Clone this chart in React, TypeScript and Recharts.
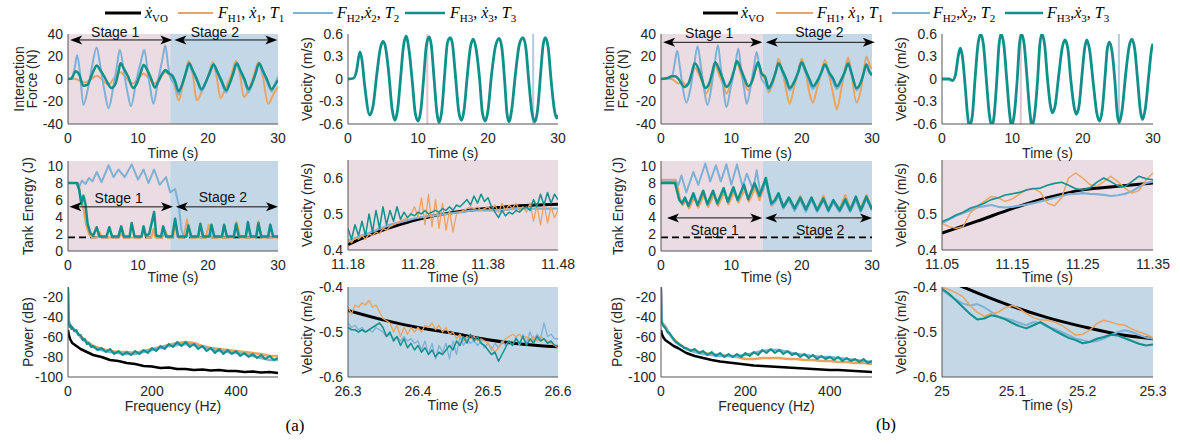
import React from 'react';
import { LineChart, Line, XAxis, YAxis, ReferenceArea, ReferenceLine } from 'recharts';

const BLACK = '#000000';
const ORANGE = '#EBA35F';
const BLUE = '#7DB1D6';
const TEAL = '#10908A';
const PINK = '#EBDCE3';
const SKY = '#C4D7E7';
const AXIS = '#555555';
const SANS = "'Liberation Sans', Arial, Helvetica, sans-serif";
const SERIF = "'Liberation Serif', 'DejaVu Serif', 'Times New Roman', serif";

type Pair = [number, number];
type Pt = { x: number; y: number };

const grid = (start: number, step: number, n: number) =>
  Array.from({ length: n }, (_, i) => +(start + i * step).toFixed(3));
const pts = (p: Pair[]): Pt[] => p.map(([x, y]) => ({ x, y }));
const zip = (t: number[], v: number[]): Pt[] => t.map((x, i) => ({ x, y: v[i] }));

// ---------- (a) interaction force ----------
const aForceTeal: Pair[] = [[0,0],[0.5,0.5],[0.8,4],[1.1,7],[1.6,4],[2.2,-6],[2.8,-5],[3.3,2],[3.7,8],[4.1,12],[4.6,8],[5.2,2],[5.7,-4],[6.2,-8],[6.8,-4],[7.2,6],[7.5,14],[8.0,9],[8.6,2],[9.3,-8],[9.9,-3],[10.4,6],[10.8,12.5],[11.4,7],[11.9,0],[12.4,-7.5],[13.0,-1],[13.5,5],[13.9,8],[14.4,5],[14.9,3],[15.3,-2],[15.8,-11],[16.3,-5],[16.8,5],[17.3,14],[17.8,8],[18.4,0],[19.1,-9],[19.6,-4],[20.2,5],[20.8,13],[21.3,7],[21.9,-1],[22.6,-10],[23.1,-4],[23.6,5],[24.1,14],[24.6,8],[25.2,0],[25.8,-9],[26.3,-4],[26.8,5],[27.3,14],[27.8,8],[28.4,0],[29.1,-9],[29.6,-5],[30,-1]];
const aForceBlue: Pair[] = [[0,0],[0.5,0],[0.9,8],[1.3,21],[1.7,6],[2.2,-23],[2.8,-10],[3.4,10],[4.1,28],[4.6,12],[5.2,-10],[5.8,-26],[6.5,-6],[7.0,12],[7.4,26],[8.0,6],[8.5,-12],[9.0,-24],[9.8,0],[10.4,15],[10.9,26],[11.4,6],[11.8,-10],[12.2,-22],[12.9,0],[13.5,18],[13.9,30],[14.3,12],[14.7,0],[15.2,-4],[15.8,-14],[16.3,-5],[16.8,4],[17.3,12],[17.8,6],[18.4,-2],[19.1,-11],[19.6,-4],[20.2,4],[20.8,12],[21.3,5],[21.9,-3],[22.6,-12],[23.1,-4],[23.6,4],[24.1,13],[24.6,6],[25.2,-2],[25.8,-12],[26.3,-4],[26.8,5],[27.3,13],[27.8,6],[28.4,-2],[29.1,-11],[29.6,-4],[30,2]];
const aForceOrange: Pair[] = [[0,0],[1.0,0],[1.8,-2],[2.5,-3],[3.3,0],[4.1,3],[4.8,0],[5.8,-5],[6.6,1],[7.5,6],[8.3,1],[9.2,-4],[10.0,0],[10.8,5],[11.6,0],[12.4,-4],[13.2,2],[13.9,6],[14.6,3],[15.2,-5],[15.8,-19],[16.4,-5],[16.9,6],[17.2,16],[17.8,5],[18.4,-19],[19.2,-10],[20.0,2],[20.7,15],[21.2,3],[21.8,-17],[22.5,-8],[23.3,3],[24.0,16],[24.6,3],[25.1,-16],[25.8,-10],[26.5,2],[27.2,15],[27.8,3],[28.6,-22],[29.3,-14],[30,-7]];

// ---------- (b) interaction force ----------
const bForceTeal: Pair[] = [[0,0],[1.0,1],[1.5,2.5],[2.0,2.5],[2.5,0],[3.3,-7],[3.9,-4],[4.4,6],[4.8,14],[5.4,8],[5.8,0],[6.3,-8],[6.9,-3],[7.3,6],[7.7,15],[8.3,8],[8.8,0],[9.3,-7],[9.9,-2],[10.4,8],[10.8,16],[11.4,8],[11.9,0],[12.4,-6.5],[13.0,-1],[13.4,8],[13.8,15],[14.3,5],[14.8,2],[15.3,-8],[15.8,-3],[16.3,6],[16.7,14],[17.3,7],[17.8,0],[18.3,-8],[18.9,-3],[19.5,6],[20.0,15],[20.6,7],[21.1,0],[21.6,-6.5],[22.2,-2],[22.8,6],[23.3,13],[23.9,6],[24.5,0],[25.0,-6.5],[25.6,-1],[26.1,6],[26.6,14],[27.1,5],[27.8,-8],[28.4,-3],[28.8,5],[29.2,13],[29.6,7],[30,3.5]];
const bForceBlue: Pair[] = [[0,0],[1.0,1],[1.6,3],[1.9,12],[2.3,25],[2.7,10],[3.1,-8],[3.6,-21],[4.2,-8],[4.7,12],[5.2,29],[5.7,10],[6.1,-8],[6.6,-23],[7.2,-6],[7.6,12],[8.1,30],[8.5,10],[8.9,-10],[9.3,-25],[9.9,-8],[10.5,10],[11.0,27],[11.4,8],[11.8,-8],[12.2,-22],[12.8,-4],[13.2,10],[13.6,24],[14.0,10],[14.3,0],[14.8,-4],[15.3,-10],[15.8,-4],[16.3,6],[16.7,13],[17.3,5],[17.8,-3],[18.3,-10],[18.9,-4],[19.5,5],[20.0,13],[20.6,5],[21.1,-3],[21.6,-9],[22.2,-3],[22.8,5],[23.3,12],[23.9,4],[24.5,-3],[25.0,-9],[25.6,-3],[26.1,5],[26.6,12],[27.1,4],[27.8,-10],[28.4,-4],[28.8,4],[29.2,12],[29.6,6],[30,3]];
const bForceOrange: Pair[] = [[0,0],[1.5,0],[2.0,-2],[2.5,-4],[3.0,-2],[3.6,-6],[4.2,0],[4.8,10],[5.4,4],[6.0,-5],[6.4,-13],[7.0,-5],[7.7,12],[8.3,3],[8.9,-6],[9.3,-13],[9.9,-4],[10.8,14],[11.4,4],[11.9,-4],[12.4,-10],[13.0,-2],[13.8,13],[14.3,4],[14.8,0],[15.3,-12],[15.8,-6],[16.3,6],[16.7,18],[17.3,6],[17.8,-10],[18.3,-22],[18.9,-8],[19.5,6],[20.0,18],[20.6,5],[21.1,-12],[21.6,-21],[22.2,-8],[22.8,6],[23.3,17],[23.9,3],[24.5,-14],[25.0,-27],[25.6,-10],[26.1,6],[26.6,19],[27.1,4],[27.8,-21],[28.4,-10],[28.8,6],[29.2,20],[29.7,12],[30,9]];

// ---------- velocity over the whole trial ----------
const aVel: Pair[] = [[0,0],[0.8,0.01],[1.2,0.1],[1.7,0.36],[2.0,0.25],[2.4,-0.1],[3.1,-0.48],[3.6,-0.35],[4.1,0.05],[4.6,0.4],[5.0,0.5],[5.3,0.45],[5.8,0.1],[6.3,-0.4],[6.7,-0.55],[7.1,-0.4],[7.5,0],[7.9,0.42],[8.3,0.57],[8.7,0.4],[9.2,-0.05],[9.6,-0.45],[10.0,-0.56],[10.4,-0.42],[10.8,0],[11.2,0.45],[11.6,0.56],[11.9,0.45],[12.3,0],[12.7,-0.45],[13.0,-0.58],[13.4,-0.42],[13.8,0.05],[14.2,0.48],[14.6,0.55],[14.9,0.48],[15.3,0.1],[15.8,-0.42],[16.2,-0.55],[16.6,-0.4],[17.0,0],[17.5,0.43],[17.9,0.53],[18.3,0.4],[18.8,0],[19.2,-0.45],[19.6,-0.56],[20.0,-0.42],[20.5,0.05],[21.1,0.45],[21.6,0.54],[22.0,0.4],[22.4,-0.05],[22.7,-0.45],[23.0,-0.57],[23.4,-0.4],[23.9,0.05],[24.5,0.47],[25.0,0.55],[25.4,0.42],[25.8,0],[26.3,-0.46],[26.7,-0.57],[27.1,-0.4],[27.5,0.05],[27.9,0.47],[28.2,0.55],[28.6,0.42],[29.0,0],[29.5,-0.42],[29.8,-0.52],[30,-0.48]];
const bVel: Pair[] = [[0,0],[1.0,0],[1.5,-0.02],[1.9,0.05],[2.3,0.3],[2.6,0.41],[2.9,0.3],[3.3,-0.1],[3.6,-0.45],[3.9,-0.63],[4.3,-0.5],[4.7,0],[5.1,0.45],[5.5,0.6],[5.9,0.45],[6.3,0],[6.7,-0.45],[7.1,-0.63],[7.4,-0.5],[7.8,0],[8.1,0.45],[8.4,0.6],[8.8,0.45],[9.2,0],[9.6,-0.45],[9.9,-0.63],[10.3,-0.45],[10.7,0],[11.0,0.45],[11.3,0.6],[11.7,0.45],[12.1,0],[12.5,-0.45],[12.8,-0.63],[13.2,-0.45],[13.6,0],[13.9,0.45],[14.2,0.6],[14.6,0.45],[15.0,0],[15.4,-0.35],[15.7,-0.45],[16.1,-0.35],[16.6,0.05],[17.1,0.42],[17.5,0.52],[17.9,0.4],[18.3,0],[18.8,-0.38],[19.1,-0.47],[19.5,-0.35],[19.9,0.05],[20.3,0.42],[20.6,0.52],[21.0,0.38],[21.5,-0.05],[22.0,-0.45],[22.4,-0.56],[22.8,-0.4],[23.2,0.05],[23.5,0.4],[23.8,0.49],[24.2,0.35],[24.6,-0.05],[24.9,-0.45],[25.2,-0.58],[25.6,-0.42],[26.1,0.05],[26.6,0.43],[27.0,0.53],[27.4,0.4],[27.8,0],[28.2,-0.42],[28.5,-0.54],[28.9,-0.4],[29.4,0.05],[29.8,0.4],[30,0.47]];

// ---------- tank energy ----------
const aTankTeal: Pair[] = [[0,8],[1.3,8],[1.6,7.2],[1.9,5.5],[2.2,6.5],[2.5,5.5],[2.8,3.2],[3.2,2.1],[3.6,1.8],[4.1,2.8],[4.5,1.7],[5.5,1.7],[5.9,2.8],[6.3,1.7],[7.2,1.7],[7.6,2.9],[8.0,1.7],[8.8,1.7],[9.1,3.3],[9.5,1.7],[10.5,1.7],[10.8,2.9],[11.1,1.8],[11.6,2.0],[12.3,4.6],[12.6,1.8],[13.3,1.7],[13.6,2.9],[14.0,1.7],[14.9,1.7],[15.3,3.8],[15.7,1.7],[16.9,1.7],[17.2,3.0],[17.6,1.7],[18.6,1.7],[18.9,3.2],[19.3,1.7],[20.2,1.7],[20.5,3.1],[20.9,1.7],[22.0,1.7],[22.3,3.1],[22.7,1.7],[23.7,1.7],[24.0,3.2],[24.4,1.7],[25.4,1.7],[25.7,3.4],[26.1,1.7],[26.9,1.7],[27.2,3.3],[27.6,1.7],[28.6,1.7],[28.9,3.1],[29.3,1.7],[30,1.7]];
const aTankBlue: Pair[] = [[0,8],[1.2,8],[1.5,7.4],[2.0,8.3],[2.5,7.9],[3.0,8.6],[3.5,8.2],[4.1,9.3],[4.8,8.1],[5.8,10.1],[6.5,8.7],[7.2,9.6],[8.1,8.7],[9.1,10.2],[10.0,8.4],[10.8,9.6],[11.5,8.0],[12.3,9.6],[13.1,7.8],[14.0,8.7],[14.6,6.9],[15.3,7.3],[15.8,5.5],[16.2,2.5],[16.5,1.8],[16.9,1.7],[17.2,2.9],[17.6,1.7],[18.6,1.7],[18.9,3.1],[19.3,1.7],[20.2,1.7],[20.5,3.0],[20.9,1.7],[22.0,1.7],[22.3,3.0],[22.7,1.7],[23.7,1.7],[24.0,3.1],[24.4,1.7],[25.4,1.7],[25.7,3.3],[26.1,1.7],[26.9,1.7],[27.2,3.2],[27.6,1.7],[28.6,1.7],[28.9,3.0],[29.3,1.7],[30,1.7]];
const aTankOrange: Pair[] = [[0,8],[1.5,8],[1.8,6.5],[2.2,5],[2.6,3],[3.0,2],[3.4,1.6],[4.2,1.6],[4.5,2.2],[4.8,1.6],[7.3,1.6],[7.6,2.1],[7.9,1.6],[10.5,1.6],[10.9,2.4],[11.3,1.6],[11.9,1.6],[12.2,2.6],[12.5,1.6],[13.5,1.6],[13.9,2.4],[14.3,1.6],[15.0,1.6],[15.4,3.2],[15.8,1.6],[16.5,1.6],[17.0,3.7],[17.5,1.6],[19.7,1.6],[20.1,3.1],[20.5,1.6],[23.6,1.6],[24.1,3.4],[24.6,1.6],[26.8,1.6],[27.2,3.5],[27.6,1.6],[30,1.6]];
const bTankTeal: Pair[] = [[0,8],[2.0,8],[2.3,7],[2.6,6],[3.0,5.6],[3.4,6.3],[3.9,5.3],[4.6,6.8],[5.2,5.4],[6.0,7.1],[6.6,5.5],[7.4,7.1],[8.0,5.6],[8.9,7.4],[9.5,5.8],[10.3,7.5],[10.9,6.0],[11.8,7.8],[12.4,6.1],[13.3,8.0],[14.0,6.5],[14.9,8.6],[15.3,7.0],[15.7,5.6],[16.2,6.0],[16.7,6.8],[17.4,5.2],[18.2,6.3],[19.0,5.0],[19.8,6.3],[20.6,4.9],[21.4,6.3],[22.2,4.8],[23.1,6.2],[23.8,4.8],[24.5,6.0],[25.4,4.8],[26.2,6.1],[26.9,4.8],[27.7,6.4],[28.4,4.8],[29.2,6.4],[30,4.9]];
const bTankBlue: Pair[] = [[0,8.2],[2.1,8.2],[2.5,7.8],[2.9,8.9],[3.6,6.9],[4.6,9.3],[5.3,7.8],[6.3,10.3],[7.0,8.2],[7.8,10.1],[8.5,8.2],[9.3,10.2],[10.0,7.8],[10.8,10.2],[11.6,7.6],[12.2,9.1],[13.1,7.2],[13.6,9.5],[14.1,7.0],[14.5,7.2],[14.9,8.3],[15.3,6.8],[15.7,5.4],[16.2,5.8],[16.7,6.5],[17.4,5.0],[18.2,6.0],[19.0,4.7],[19.8,6.0],[20.6,4.6],[21.4,6.0],[22.2,4.6],[23.1,5.9],[23.8,4.6],[24.5,5.7],[25.4,4.6],[26.2,5.8],[26.9,4.6],[27.7,6.0],[28.4,4.6],[29.2,6.1],[30,4.8]];
const bTankOrange: Pair[] = [[0,8.4],[2.1,8.4],[2.4,7.4],[2.7,6.2],[3.1,5.4],[3.5,6.0],[4.0,5.0],[4.7,6.3],[5.3,5.1],[6.1,6.6],[6.7,5.2],[7.5,6.6],[8.1,5.3],[9.0,6.9],[9.6,5.5],[10.4,7.0],[11.0,5.7],[11.9,7.2],[12.5,5.8],[13.4,7.4],[14.0,6.0],[14.9,8.2],[15.3,6.8],[15.7,5.3],[16.2,5.7],[16.7,6.6],[17.4,5.0],[18.2,6.0],[19.0,4.9],[19.8,6.5],[20.6,4.9],[21.4,6.0],[22.2,4.9],[23.1,6.5],[23.8,4.9],[24.5,5.7],[25.4,5.0],[26.2,6.6],[26.9,5.0],[27.7,6.2],[28.4,5.0],[29.2,6.6],[30,5.0]];

// ---------- (a) velocity, zoom in stage 1 (11.18 - 11.48 s) ----------
const tAz1 = grid(11.18, 0.005, 61);
const aZ1Teal = [0.46,0.43,0.47,0.44,0.48,0.44,0.50,0.45,0.51,0.46,0.52,0.47,0.51,0.48,0.52,0.485,0.505,0.49,0.50,0.495,0.505,0.50,0.51,0.50,0.505,0.51,0.505,0.515,0.51,0.52,0.51,0.525,0.52,0.53,0.54,0.525,0.55,0.53,0.555,0.535,0.545,0.52,0.505,0.49,0.51,0.495,0.505,0.50,0.51,0.505,0.515,0.52,0.51,0.54,0.52,0.555,0.525,0.56,0.53,0.555,0.54];
const aZ1Orange = [0.43,0.42,0.435,0.43,0.44,0.43,0.445,0.44,0.45,0.445,0.46,0.455,0.465,0.47,0.475,0.48,0.485,0.49,0.50,0.52,0.49,0.545,0.47,0.555,0.465,0.54,0.46,0.53,0.455,0.51,0.45,0.50,0.505,0.51,0.515,0.52,0.515,0.52,0.51,0.515,0.52,0.51,0.525,0.505,0.53,0.51,0.525,0.515,0.53,0.51,0.52,0.505,0.53,0.48,0.525,0.47,0.53,0.475,0.52,0.49,0.51];
const tAz1s = grid(11.18, 0.02, 16);
const aZ1Blue = [0.425,0.44,0.455,0.47,0.48,0.49,0.495,0.50,0.505,0.51,0.51,0.51,0.515,0.515,0.515,0.515];
const aZ1Black = [0.415,0.432,0.448,0.462,0.474,0.485,0.494,0.501,0.507,0.512,0.516,0.519,0.522,0.524,0.526,0.527];

// ---------- (a) velocity, zoom in stage 2 (26.3 - 26.6 s) ----------
const tAz2 = grid(26.3, 0.005, 61);
const aZ2Teal = [-0.49,-0.495,-0.495,-0.50,-0.495,-0.50,-0.495,-0.49,-0.485,-0.48,-0.49,-0.51,-0.50,-0.52,-0.51,-0.53,-0.515,-0.535,-0.525,-0.54,-0.53,-0.545,-0.535,-0.55,-0.54,-0.555,-0.545,-0.55,-0.54,-0.53,-0.54,-0.52,-0.53,-0.51,-0.525,-0.505,-0.52,-0.51,-0.525,-0.53,-0.54,-0.55,-0.545,-0.565,-0.55,-0.535,-0.52,-0.53,-0.515,-0.525,-0.51,-0.53,-0.515,-0.525,-0.51,-0.52,-0.515,-0.525,-0.52,-0.53,-0.53];
const aZ2Orange = [-0.445,-0.46,-0.44,-0.445,-0.435,-0.44,-0.43,-0.445,-0.44,-0.455,-0.47,-0.475,-0.48,-0.50,-0.485,-0.51,-0.49,-0.505,-0.49,-0.50,-0.49,-0.50,-0.485,-0.49,-0.48,-0.495,-0.485,-0.50,-0.49,-0.505,-0.50,-0.515,-0.505,-0.52,-0.51,-0.515,-0.51,-0.52,-0.515,-0.52,-0.525,-0.535,-0.545,-0.535,-0.525,-0.515,-0.51,-0.505,-0.51,-0.505,-0.515,-0.51,-0.52,-0.51,-0.52,-0.51,-0.515,-0.52,-0.525,-0.53,-0.535];
const aZ2Blue = [-0.48,-0.49,-0.485,-0.495,-0.49,-0.50,-0.495,-0.50,-0.49,-0.495,-0.50,-0.51,-0.505,-0.515,-0.51,-0.52,-0.51,-0.52,-0.515,-0.525,-0.52,-0.54,-0.52,-0.55,-0.525,-0.56,-0.53,-0.545,-0.525,-0.56,-0.52,-0.55,-0.51,-0.53,-0.515,-0.525,-0.52,-0.53,-0.52,-0.535,-0.525,-0.54,-0.525,-0.535,-0.52,-0.53,-0.52,-0.53,-0.51,-0.53,-0.505,-0.525,-0.50,-0.52,-0.505,-0.515,-0.48,-0.51,-0.505,-0.515,-0.515];
const tAz2s = grid(26.3, 0.05, 7);
const aZ2Black = [-0.452,-0.473,-0.49,-0.503,-0.517,-0.527,-0.533];

// ---------- (b) velocity, zoom in stage 1 (11.05 - 11.35 s) ----------
const tBz1 = grid(11.05, 0.01, 31);
const bZ1Teal = [0.479,0.487,0.497,0.505,0.516,0.522,0.53,0.54,0.545,0.553,0.556,0.56,0.567,0.57,0.572,0.58,0.585,0.588,0.58,0.57,0.567,0.572,0.588,0.6,0.59,0.578,0.576,0.59,0.605,0.598,0.595];
const bZ1Blue = [0.474,0.485,0.495,0.503,0.51,0.518,0.522,0.525,0.52,0.518,0.52,0.523,0.526,0.53,0.535,0.54,0.545,0.55,0.555,0.556,0.558,0.556,0.555,0.553,0.55,0.552,0.556,0.563,0.575,0.586,0.59];
const bZ1Orange = [0.474,0.465,0.46,0.465,0.502,0.52,0.535,0.549,0.545,0.535,0.542,0.555,0.567,0.572,0.56,0.53,0.523,0.545,0.6,0.614,0.6,0.582,0.577,0.59,0.605,0.59,0.572,0.558,0.565,0.595,0.614];
const tBz1s = grid(11.05, 0.05, 7);
const bZ1Black = [0.447,0.48,0.515,0.545,0.567,0.577,0.586];

// ---------- (b) velocity, zoom in stage 2 (25.0 - 25.3 s) ----------
const tBz2 = grid(25.0, 0.01, 31);
const bZ2Teal = [-0.404,-0.415,-0.43,-0.445,-0.46,-0.472,-0.47,-0.463,-0.466,-0.472,-0.48,-0.487,-0.492,-0.485,-0.478,-0.487,-0.497,-0.505,-0.513,-0.518,-0.525,-0.522,-0.515,-0.511,-0.506,-0.508,-0.514,-0.52,-0.526,-0.53,-0.528];
const bZ2Blue = [-0.407,-0.418,-0.428,-0.437,-0.441,-0.438,-0.445,-0.455,-0.466,-0.47,-0.474,-0.48,-0.485,-0.478,-0.48,-0.489,-0.493,-0.5,-0.507,-0.515,-0.518,-0.522,-0.52,-0.515,-0.507,-0.5,-0.496,-0.5,-0.507,-0.512,-0.515];
const bZ2Orange = [-0.4,-0.406,-0.413,-0.422,-0.441,-0.456,-0.465,-0.459,-0.456,-0.446,-0.441,-0.448,-0.459,-0.468,-0.473,-0.474,-0.478,-0.485,-0.496,-0.507,-0.505,-0.496,-0.481,-0.474,-0.478,-0.483,-0.485,-0.493,-0.5,-0.505,-0.513];
const tBz2s = grid(25.0, 0.05, 7);
const bZ2Black = [-0.38,-0.413,-0.443,-0.468,-0.488,-0.505,-0.515];

// ---------- power spectra ----------
const fDense = [0,1,2,4,6,8,10,15,20,25,30,35,40,45,50,55,60, ...grid(70, 10, 44)];
const fSparse = [0,2,5,10,20,30,40, ...grid(60, 20, 23)];
const aPsdTeal = [-9,-42,-47,-50,-48,-52,-50,-54,-53,-58,-58,-63,-62,-67,-66,-70,-69,-73,-71,-75,-72,-77,-74,-78,-75,-78,-74,-77,-73,-76,-71,-74,-69,-72,-67,-70,-65,-69,-65,-70,-67,-72,-69,-74,-71,-76,-72,-77,-73,-77,-74,-79,-76,-80,-77,-81,-78,-82,-79,-83,-81];
const aPsdOrange = [-12,-45,-49,-51,-55,-59,-63,-69,-72,-74,-75,-75,-76,-74,-72,-70,-68,-66,-65,-66,-69,-71,-72,-73,-74,-75,-76,-77,-79,-79];
const aPsdBlue = [-11,-44,-48,-51,-55,-60,-64,-70,-73,-75,-76,-77,-77,-75,-73,-71,-69,-68,-67,-68,-70,-72,-74,-75,-76,-77,-79,-81,-83,-83];
const aPsdBlack = [-53,-58,-62,-66,-69,-72,-74,-78,-80,-83,-84,-86,-87,-89,-89.5,-91,-90.5,-92,-92,-93,-92.5,-93.5,-93,-94,-94,-95,-94.5,-95.5,-95,-96];
const bPsdTeal = [-9,-41,-45,-48,-49,-50,-51,-55,-56,-59,-62,-65,-66,-68,-69,-71,-71,-74,-72,-76,-74,-78,-75,-79,-76,-80,-77,-80,-77,-80,-76,-79,-75,-78,-73,-76,-72,-76,-73,-77,-74,-78,-76,-80,-77,-81,-78,-82,-79,-82,-80,-83,-80,-84,-81,-84,-82,-85,-82,-86,-84];
const bPsdOrange = [-12,-46,-47,-49,-57,-62,-66,-72,-74,-76,-77,-78,-79,-80,-82,-82,-81,-81,-81,-82,-82,-83,-83,-84,-84,-85,-85,-86,-86,-87];
const bPsdBlue = [-11,-45,-48,-50,-57,-63,-67,-72,-75,-77,-78,-79,-79,-79,-78,-76,-74,-73,-73,-75,-77,-78,-79,-80,-80,-81,-82,-83,-84,-85];
const bPsdBlack = [-53,-57,-60,-63,-66,-69,-71,-76,-79,-81,-83,-84.5,-85.5,-86.5,-87.5,-88.5,-89,-89.5,-90,-90.5,-91,-91.5,-92,-92.5,-93,-93,-93.5,-94,-94.5,-95];

// ---------- panel ----------
type Series = { data: Pt[]; color: string; width: number; curve?: 'linear' | 'monotone' };
type Band = { x1: number; x2: number; fill: string };
type Arrow = { x1: number; x2: number; y: number; text: string; dx: number; dy: number };

interface PanelProps {
  left: number;
  top: number;
  w: number;
  h: number;
  xDomain: [number, number];
  xTicks: number[];
  yDomain: [number, number];
  yTicks: number[];
  series: Series[];
  bands?: Band[];
  arrows?: Arrow[];
  dashY?: number;
}

const ML = 60;
const MT = 30;
const MR = 26;
const XH = 30;
const tickStyle = { fontSize: 14, fill: '#262626', fontFamily: SANS };

const arrowShape = (a: Arrow) => (p: any) => {
  const x1 = Number(p.x1);
  const x2 = Number(p.x2);
  const y = Number(p.y1);
  const L = 12;
  const W = 4.5;
  const N = 3;
  return (
    <g>
      <line x1={x1 + 4} y1={y} x2={x2 - 4} y2={y} stroke="#111" strokeWidth={1} />
      <polygon points={`${x1},${y} ${x1 + L},${y - W} ${x1 + L - N},${y} ${x1 + L},${y + W}`} fill="#000" />
      <polygon points={`${x2},${y} ${x2 - L},${y - W} ${x2 - L + N},${y} ${x2 - L},${y + W}`} fill="#000" />
      <text
        x={(x1 + x2) / 2 + a.dx}
        y={y + a.dy}
        dy="0.36em"
        textAnchor="middle"
        fontSize={14}
        fontFamily={SANS}
        fill="#111"
      >
        {a.text}
      </text>
    </g>
  );
};

function Panel(p: PanelProps) {
  return (
    <div style={{ position: 'absolute', left: p.left - ML, top: p.top - MT }}>
      <LineChart
        width={p.w + ML + MR}
        height={p.h + MT + XH}
        margin={{ top: MT, right: MR, bottom: 0, left: 0 }}
      >
        <XAxis
          type="number"
          dataKey="x"
          domain={p.xDomain}
          ticks={p.xTicks}
          allowDataOverflow
          interval={0}
          height={XH}
          tickLine={false}
          tickSize={4}
          tickMargin={5}
          stroke={AXIS}
          tick={tickStyle}
        />
        <YAxis
          type="number"
          domain={p.yDomain}
          ticks={p.yTicks}
          allowDataOverflow
          interval={0}
          width={ML}
          tickLine={false}
          tickSize={2}
          tickMargin={3}
          stroke={AXIS}
          tick={tickStyle}
        />
        {(p.bands || []).map((b, i) => (
          <ReferenceArea key={`b${i}`} x1={b.x1} x2={b.x2} fill={b.fill} fillOpacity={1} stroke="none" ifOverflow="hidden" />
        ))}
        {p.dashY !== undefined && (
          <ReferenceLine y={p.dashY} stroke="#000" strokeWidth={1.6} strokeDasharray="7 4" />
        )}
        {p.series.map((s, i) => (
          <Line
            key={`s${i}`}
            data={s.data}
            dataKey="y"
            type={s.curve || 'linear'}
            stroke={s.color}
            strokeWidth={s.width}
            strokeLinejoin="round"
            dot={false}
            activeDot={false}
            isAnimationActive={false}
          />
        ))}
        {(p.arrows || []).map((a, i) => (
          <ReferenceLine
            key={`a${i}`}
            segment={[{ x: a.x1, y: a.y }, { x: a.x2, y: a.y }]}
            ifOverflow="visible"
            shape={arrowShape(a)}
          />
        ))}
      </LineChart>
    </div>
  );
}

// ---------- legend / titles ----------
type Seg = { s: string; it?: boolean; sub?: boolean };
const F = (n: string, tight: boolean): Seg[] => [
  { s: 'F', it: true }, { s: `H${n}`, sub: true }, { s: tight ? ',' : ', ' },
  { s: 'ẋ', it: true }, { s: n, sub: true }, { s: ', ' },
  { s: 'T', it: true }, { s: n, sub: true },
];
const vo: Seg[] = [{ s: 'ẋ', it: true }, { s: 'VO', sub: true }];

function MathText({ x, y, segs }: { x: number; y: number; segs: Seg[] }) {
  return (
    <text x={x} y={y} fontFamily={SERIF} fontSize={16} fill="#000" style={{ whiteSpace: 'pre' }}>
      {segs.map((g, i) => {
        const prevSub = i > 0 && !!segs[i - 1].sub;
        const dy = g.sub ? (prevSub ? 0 : 4) : prevSub ? -4 : 0;
        return (
          <tspan key={i} dy={dy} fontStyle={g.it ? 'italic' : 'normal'} fontSize={g.sub ? 11 : 16}>
            {g.s}
          </tspan>
        );
      })}
    </text>
  );
}

function LegendRow({ xs, tx, labels }: { xs: number[][]; tx: number[]; labels: Seg[][] }) {
  const colors = [BLACK, ORANGE, BLUE, TEAL];
  const widths = [3, 2, 2, 2.5];
  return (
    <g>
      {xs.map((r, i) => (
        <g key={i}>
          <line x1={r[0]} x2={r[1]} y1={13} y2={13} stroke={colors[i]} strokeWidth={widths[i]} />
          <MathText x={tx[i]} y={18} segs={labels[i]} />
        </g>
      ))}
    </g>
  );
}

function Title({ x, y, text, rot }: { x: number; y: number; text: string; rot?: boolean }) {
  return (
    <text
      x={x}
      y={y}
      dy="0.36em"
      textAnchor="middle"
      fontSize={14}
      fontFamily={SANS}
      fill="#262626"
      transform={rot ? `rotate(-90 ${x} ${y})` : undefined}
    >
      {text}
    </text>
  );
}

const vBandA: Band[] = [{ x1: 11.18, x2: 11.48, fill: '#E3C7D2' }, { x1: 26.3, x2: 26.6, fill: '#B3CCE4' }];
const vBandB: Band[] = [{ x1: 11.05, x2: 11.35, fill: '#E3C7D2' }, { x1: 25.0, x2: 25.3, fill: '#B3CCE4' }];
const stages: Band[] = [{ x1: 0, x2: 14.6, fill: PINK }, { x1: 14.6, x2: 30, fill: SKY }];

const T30 = [0, 10, 20, 30];

export default function App() {
  const cols = [
    { l: 68, r: 348, w: 210 },
    { l: 661, r: 942, w: 211 },
  ];
  return (
    <div style={{ position: 'absolute', left: 0, top: 0, width: 1180, height: 444, background: '#fff', overflow: 'hidden' }}>
      {/* ---- (a) ---- */}
      <Panel
        left={68} top={34} w={210} h={90}
        xDomain={[0, 30]} xTicks={T30} yDomain={[-40, 40]} yTicks={[-40, -20, 0, 20, 40]}
        bands={stages}
        series={[
          { data: pts(aForceOrange), color: ORANGE, width: 2, curve: 'monotone' },
          { data: pts(aForceBlue), color: BLUE, width: 2, curve: 'monotone' },
          { data: pts(aForceTeal), color: TEAL, width: 2.5, curve: 'monotone' },
        ]}
        arrows={[
          { x1: 0.3, x2: 14.9, y: 34.7, text: 'Stage 1', dx: -6, dy: -8 },
          { x1: 15.2, x2: 29.9, y: 34.7, text: 'Stage 2', dx: -11, dy: -8 },
        ]}
      />
      <Panel
        left={348} top={34} w={210} h={90}
        xDomain={[0, 30]} xTicks={T30} yDomain={[-0.6, 0.6]} yTicks={[-0.6, -0.3, 0, 0.3, 0.6]}
        bands={vBandA}
        series={[{ data: pts(aVel), color: TEAL, width: 2.8, curve: 'monotone' }]}
      />
      <Panel
        left={68} top={161} w={210} h={90}
        xDomain={[0, 30]} xTicks={T30} yDomain={[0, 10.6]} yTicks={[0, 2, 4, 6, 8, 10]}
        bands={stages} dashY={1.6}
        series={[
          { data: pts(aTankOrange), color: ORANGE, width: 2 },
          { data: pts(aTankBlue), color: BLUE, width: 2 },
          { data: pts(aTankTeal), color: TEAL, width: 2.5 },
        ]}
        arrows={[
          { x1: 0.2, x2: 15.0, y: 5.2, text: 'Stage 1', dx: -2.5, dy: -9 },
          { x1: 15.4, x2: 30, y: 5.2, text: 'Stage 2', dx: -4, dy: -10 },
        ]}
      />
      <Panel
        left={348} top={160} w={210} h={90}
        xDomain={[11.18, 11.48]} xTicks={[11.18, 11.28, 11.38, 11.48]} yDomain={[0.4, 0.65]} yTicks={[0.4, 0.5, 0.6]}
        bands={[{ x1: 11.18, x2: 11.48, fill: PINK }]}
        series={[
          { data: zip(tAz1s, aZ1Black), color: BLACK, width: 3, curve: 'monotone' },
          { data: zip(tAz1s, aZ1Blue), color: BLUE, width: 2.2, curve: 'monotone' },
          { data: zip(tAz1, aZ1Orange), color: ORANGE, width: 1.3 },
          { data: zip(tAz1, aZ1Teal), color: TEAL, width: 1.5 },
        ]}
      />
      <Panel
        left={68} top={287} w={210} h={90}
        xDomain={[0, 500]} xTicks={[0, 200, 400]} yDomain={[-100, -10]} yTicks={[-100, -80, -60, -40, -20]}
        series={[
          { data: zip(fSparse, aPsdBlack), color: BLACK, width: 2.5 },
          { data: zip(fSparse, aPsdOrange), color: ORANGE, width: 2.5 },
          { data: zip(fSparse, aPsdBlue), color: BLUE, width: 2.5 },
          { data: zip(fDense, aPsdTeal), color: TEAL, width: 2 },
        ]}
      />
      <Panel
        left={348} top={287} w={210} h={90}
        xDomain={[26.3, 26.6]} xTicks={[26.3, 26.4, 26.5, 26.6]} yDomain={[-0.6, -0.4]} yTicks={[-0.6, -0.5, -0.4]}
        bands={[{ x1: 26.3, x2: 26.6, fill: SKY }]}
        series={[
          { data: zip(tAz2s, aZ2Black), color: BLACK, width: 3, curve: 'monotone' },
          { data: zip(tAz2, aZ2Blue), color: BLUE, width: 1.3 },
          { data: zip(tAz2, aZ2Orange), color: ORANGE, width: 1.3 },
          { data: zip(tAz2, aZ2Teal), color: TEAL, width: 1.5 },
        ]}
      />

      {/* ---- (b) ---- */}
      <Panel
        left={661} top={34} w={211} h={90}
        xDomain={[0, 30]} xTicks={T30} yDomain={[-40, 40]} yTicks={[-40, -20, 0, 20, 40]}
        bands={[{ x1: 0, x2: 14.5, fill: PINK }, { x1: 14.5, x2: 30, fill: SKY }]}
        series={[
          { data: pts(bForceOrange), color: ORANGE, width: 2, curve: 'monotone' },
          { data: pts(bForceBlue), color: BLUE, width: 2, curve: 'monotone' },
          { data: pts(bForceTeal), color: TEAL, width: 2.5, curve: 'monotone' },
        ]}
        arrows={[
          { x1: 0.3, x2: 14.4, y: 32.6, text: 'Stage 1', dx: -3.5, dy: -9.5 },
          { x1: 14.9, x2: 30.4, y: 32.6, text: 'Stage 2', dx: -1, dy: -10 },
        ]}
      />
      <Panel
        left={942} top={34} w={211} h={90}
        xDomain={[0, 30]} xTicks={T30} yDomain={[-0.6, 0.6]} yTicks={[-0.6, -0.3, 0, 0.3, 0.6]}
        bands={vBandB}
        series={[{ data: pts(bVel), color: TEAL, width: 2.8, curve: 'monotone' }]}
      />
      <Panel
        left={661} top={161} w={211} h={90}
        xDomain={[0, 30]} xTicks={T30} yDomain={[0, 10.6]} yTicks={[0, 2, 4, 6, 8, 10]}
        bands={[{ x1: 0, x2: 14.5, fill: PINK }, { x1: 14.5, x2: 30, fill: SKY }]}
        dashY={1.6}
        series={[
          { data: pts(bTankOrange), color: ORANGE, width: 2 },
          { data: pts(bTankBlue), color: BLUE, width: 2 },
          { data: pts(bTankTeal), color: TEAL, width: 2.5 },
        ]}
        arrows={[
          { x1: 0.85, x2: 14.4, y: 3.9, text: 'Stage 1', dx: 0, dy: 12 },
          { x1: 14.8, x2: 30, y: 3.9, text: 'Stage 2', dx: 1.5, dy: 12 },
        ]}
      />
      <Panel
        left={942} top={160} w={211} h={90}
        xDomain={[11.05, 11.35]} xTicks={[11.05, 11.15, 11.25, 11.35]} yDomain={[0.4, 0.65]} yTicks={[0.4, 0.5, 0.6]}
        bands={[{ x1: 11.05, x2: 11.35, fill: PINK }]}
        series={[
          { data: zip(tBz1s, bZ1Black), color: BLACK, width: 3, curve: 'monotone' },
          { data: zip(tBz1, bZ1Blue), color: BLUE, width: 2.2 },
          { data: zip(tBz1, bZ1Orange), color: ORANGE, width: 1.4 },
          { data: zip(tBz1, bZ1Teal), color: TEAL, width: 1.6 },
        ]}
      />
      <Panel
        left={661} top={287} w={211} h={90}
        xDomain={[0, 500]} xTicks={[0, 200, 400]} yDomain={[-100, -10]} yTicks={[-100, -80, -60, -40, -20]}
        series={[
          { data: zip(fSparse, bPsdBlack), color: BLACK, width: 2.5 },
          { data: zip(fSparse, bPsdOrange), color: ORANGE, width: 2.5 },
          { data: zip(fSparse, bPsdBlue), color: BLUE, width: 2.5 },
          { data: zip(fDense, bPsdTeal), color: TEAL, width: 2 },
        ]}
      />
      <Panel
        left={942} top={287} w={211} h={90}
        xDomain={[25, 25.3]} xTicks={[25, 25.1, 25.2, 25.3]} yDomain={[-0.6, -0.4]} yTicks={[-0.6, -0.5, -0.4]}
        bands={[{ x1: 25, x2: 25.3, fill: SKY }]}
        series={[
          { data: zip(tBz2s, bZ2Black), color: BLACK, width: 3, curve: 'monotone' },
          { data: zip(tBz2, bZ2Blue), color: BLUE, width: 2 },
          { data: zip(tBz2, bZ2Orange), color: ORANGE, width: 1.5 },
          { data: zip(tBz2, bZ2Teal), color: TEAL, width: 2 },
        ]}
      />

      <svg width={1180} height={444} style={{ position: 'absolute', left: 0, top: 0, pointerEvents: 'none' }}>
        <LegendRow
          xs={[[105, 141], [178, 213], [293, 333], [405, 445]]}
          tx={[145, 218, 337, 450]}
          labels={[vo, F('1', false), F('2', true), F('3', false)]}
        />
        <LegendRow
          xs={[[703, 738], [776, 813], [892, 930], [1005, 1043]]}
          tx={[741, 817, 933, 1047]}
          labels={[vo, F('1', false), F('2', true), F('3', true)]}
        />
        {cols.map((c, i) => (
          <g key={i}>
            <Title x={c.l + c.w / 2} y={152.5} text="Time (s)" />
            <Title x={c.r + c.w / 2} y={152.5} text="Time (s)" />
            <Title x={c.l + c.w / 2} y={276.5} text="Time (s)" />
            <Title x={c.r + c.w / 2} y={276.5} text="Time (s)" />
            <Title x={c.l + c.w / 2} y={406} text="Frequency (Hz)" />
            <Title x={c.r + c.w / 2} y={405} text="Time (s)" />
            <Title x={c.l - 49 - (i ? 3 : 0)} y={79} text="Interaction" rot />
            <Title x={c.l - 36 - (i ? 2 : 0)} y={79} text="Force (N)" rot />
            <Title x={c.l - 40 - (i ? 3 : 0)} y={206} text="Tank Energy (J)" rot />
            <Title x={c.l - 40 - (i ? 4 : 0)} y={332} text="Power (dB)" rot />
            <Title x={c.r - 41} y={79} text="Velocity (m/s)" rot />
            <Title x={c.r - 41} y={205} text="Velocity (m/s)" rot />
            <Title x={c.r - 41} y={332} text="Velocity (m/s)" rot />
          </g>
        ))}
        <text x={295} y={431} textAnchor="middle" fontSize={17} fontFamily={SERIF} fill="#000">(a)</text>
        <text x={886} y={430} textAnchor="middle" fontSize={17} fontFamily={SERIF} fill="#000">(b)</text>
      </svg>
    </div>
  );
}
